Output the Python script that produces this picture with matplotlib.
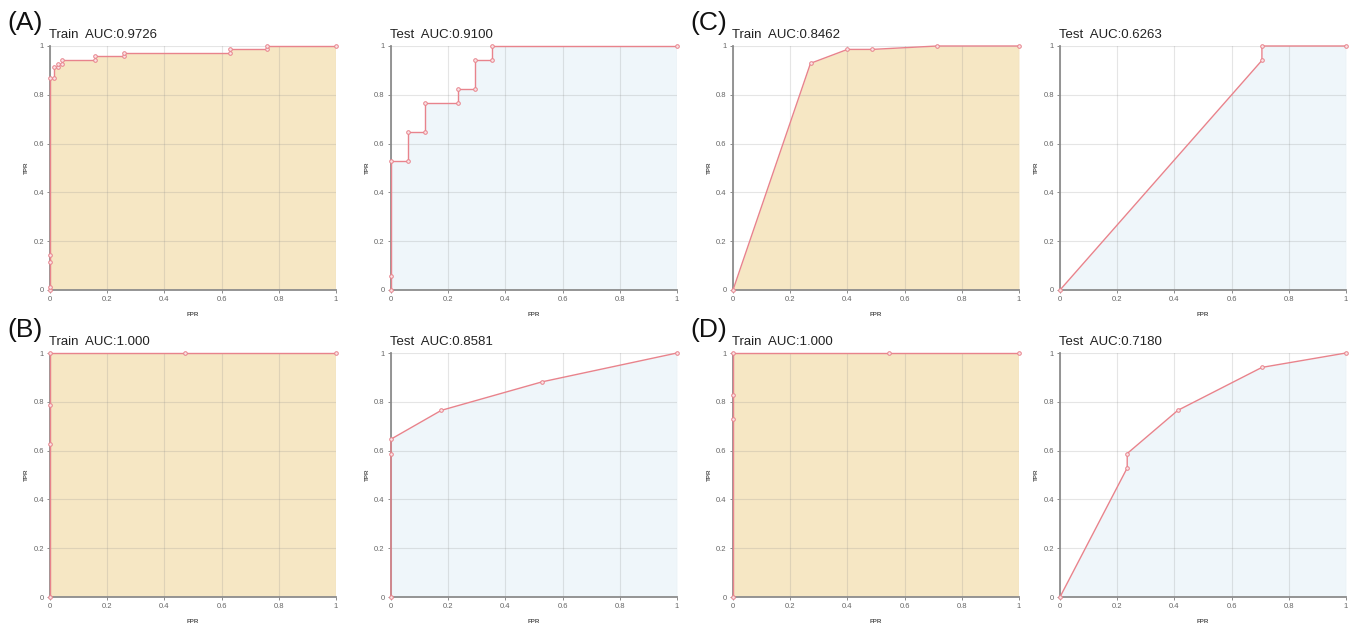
import numpy as np
import matplotlib
matplotlib.use('Agg')
import matplotlib.pyplot as plt
from matplotlib.ticker import FuncFormatter

plt.rcParams['font.family'] = ['Liberation Sans', 'DejaVu Sans']

# ROC 数据
a_train_fpr = [0, 0, 0, 0, 0, 0.014, 0.014, 0.029, 0.029, 0.043, 0.043, 0.157, 0.157, 0.257, 0.257, 0.629, 0.629, 0.757, 0.757, 1]
a_train_tpr = [0, 0.014, 0.116, 0.145, 0.870, 0.870, 0.913, 0.913, 0.928, 0.928, 0.942, 0.942, 0.957, 0.957, 0.971, 0.971, 0.986, 0.986, 1, 1]
a_test_fpr = [0, 0, 0, 0.059, 0.059, 0.118, 0.118, 0.235, 0.235, 0.294, 0.294, 0.353, 0.353, 1]
a_test_tpr = [0, 0.059, 0.529, 0.529, 0.647, 0.647, 0.765, 0.765, 0.824, 0.824, 0.941, 0.941, 1, 1]

b_train_fpr = [0, 0, 0, 0, 0.472, 1]
b_train_tpr = [0, 0.629, 0.786, 1, 1, 1]
b_test_fpr = [0, 0, 0, 0.176, 0.529, 1]
b_test_tpr = [0, 0.588, 0.647, 0.765, 0.882, 1]

c_train_fpr = [0, 0.271, 0.4, 0.486, 0.714, 1]
c_train_tpr = [0, 0.929, 0.986, 0.986, 1, 1]
c_test_fpr = [0, 0.706, 0.706, 1]
c_test_tpr = [0, 0.941, 1, 1]

d_train_fpr = [0, 0, 0, 0, 0.545, 1]
d_train_tpr = [0, 0.730, 0.829, 1, 1, 1]
d_test_fpr = [0, 0.235, 0.235, 0.412, 0.706, 1]
d_test_tpr = [0, 0.529, 0.588, 0.765, 0.941, 1]

panel_letters = ['(A)', '(B)', '(C)', '(D)']
train_titles = ['Train  AUC:0.9726', 'Train  AUC:1.000', 'Train  AUC:0.8462', 'Train  AUC:1.000']
test_titles = ['Test  AUC:0.9100', 'Test  AUC:0.8581', 'Test  AUC:0.6263', 'Test  AUC:0.7180']

panels = [
    (a_train_fpr, a_train_tpr, a_test_fpr, a_test_tpr),
    (b_train_fpr, b_train_tpr, b_test_fpr, b_test_tpr),
    (c_train_fpr, c_train_tpr, c_test_fpr, c_test_tpr),
    (d_train_fpr, d_train_tpr, d_test_fpr, d_test_tpr),
]

W, H = 1354, 625
fig = plt.figure(figsize=(W / 100, H / 100), dpi=100)

line_color = '#e8838c'
train_fill = '#f6e7c4'
test_fill = '#eff6fa'

# 像素位置: (train x0, test x0, top y)
layout = [(50, 391, 46), (50, 391, 353), (733, 1060, 46), (733, 1060, 353)]
aw, ah = 286, 244


def draw_roc(ax, fpr, tpr, fill, title):
    ax.fill_between(fpr, tpr, 0, color=fill, linewidth=0, zorder=1)
    ax.plot(fpr, tpr, color=line_color, lw=1.0, marker='o', ms=2.6,
            mfc='#fbe3e5', mec=line_color, mew=0.7, clip_on=False, zorder=3)
    ax.set_xlim(0, 1)
    ax.set_ylim(0, 1)
    ticks = [0, 0.2, 0.4, 0.6, 0.8, 1]
    ax.set_xticks(ticks)
    ax.set_yticks(ticks)
    fmt = FuncFormatter(lambda v, p: '%g' % v)
    ax.xaxis.set_major_formatter(fmt)
    ax.yaxis.set_major_formatter(fmt)
    ax.grid(True, color='#8a8a8a', alpha=0.22, lw=0.8)
    for s in ['top', 'right']:
        ax.spines[s].set_visible(False)
    for s in ['left', 'bottom']:
        ax.spines[s].set_color('#8c8c8c')
        ax.spines[s].set_linewidth(1.3)
    ax.tick_params(length=2.5, width=0.7, color='#8c8c8c', labelsize=5.5,
                   labelcolor='#666666', pad=2)
    ax.set_xlabel('FPR', fontsize=4.5, fontweight='bold', color='#555555', labelpad=6)
    ax.set_ylabel('TPR', fontsize=4.5, fontweight='bold', color='#555555', labelpad=3)
    ax.set_title(title, loc='left', fontsize=9.5, color='#222222', pad=6, x=-0.005)


for i, (tr_x, tr_y, te_x, te_y) in enumerate(panels):
    x_tr, x_te, y_top = layout[i]
    ax1 = fig.add_axes([x_tr / W, 1 - (y_top + ah) / H, aw / W, ah / H])
    draw_roc(ax1, tr_x, tr_y, train_fill, train_titles[i])
    ax2 = fig.add_axes([x_te / W, 1 - (y_top + ah) / H, aw / W, ah / H])
    draw_roc(ax2, te_x, te_y, test_fill, test_titles[i])
    fig.text((x_tr - 43) / W, 1 - (y_top - 23) / H, panel_letters[i],
             fontsize=19, va='center', ha='left', color='#111111')

fig.savefig('out.png', dpi=100)
